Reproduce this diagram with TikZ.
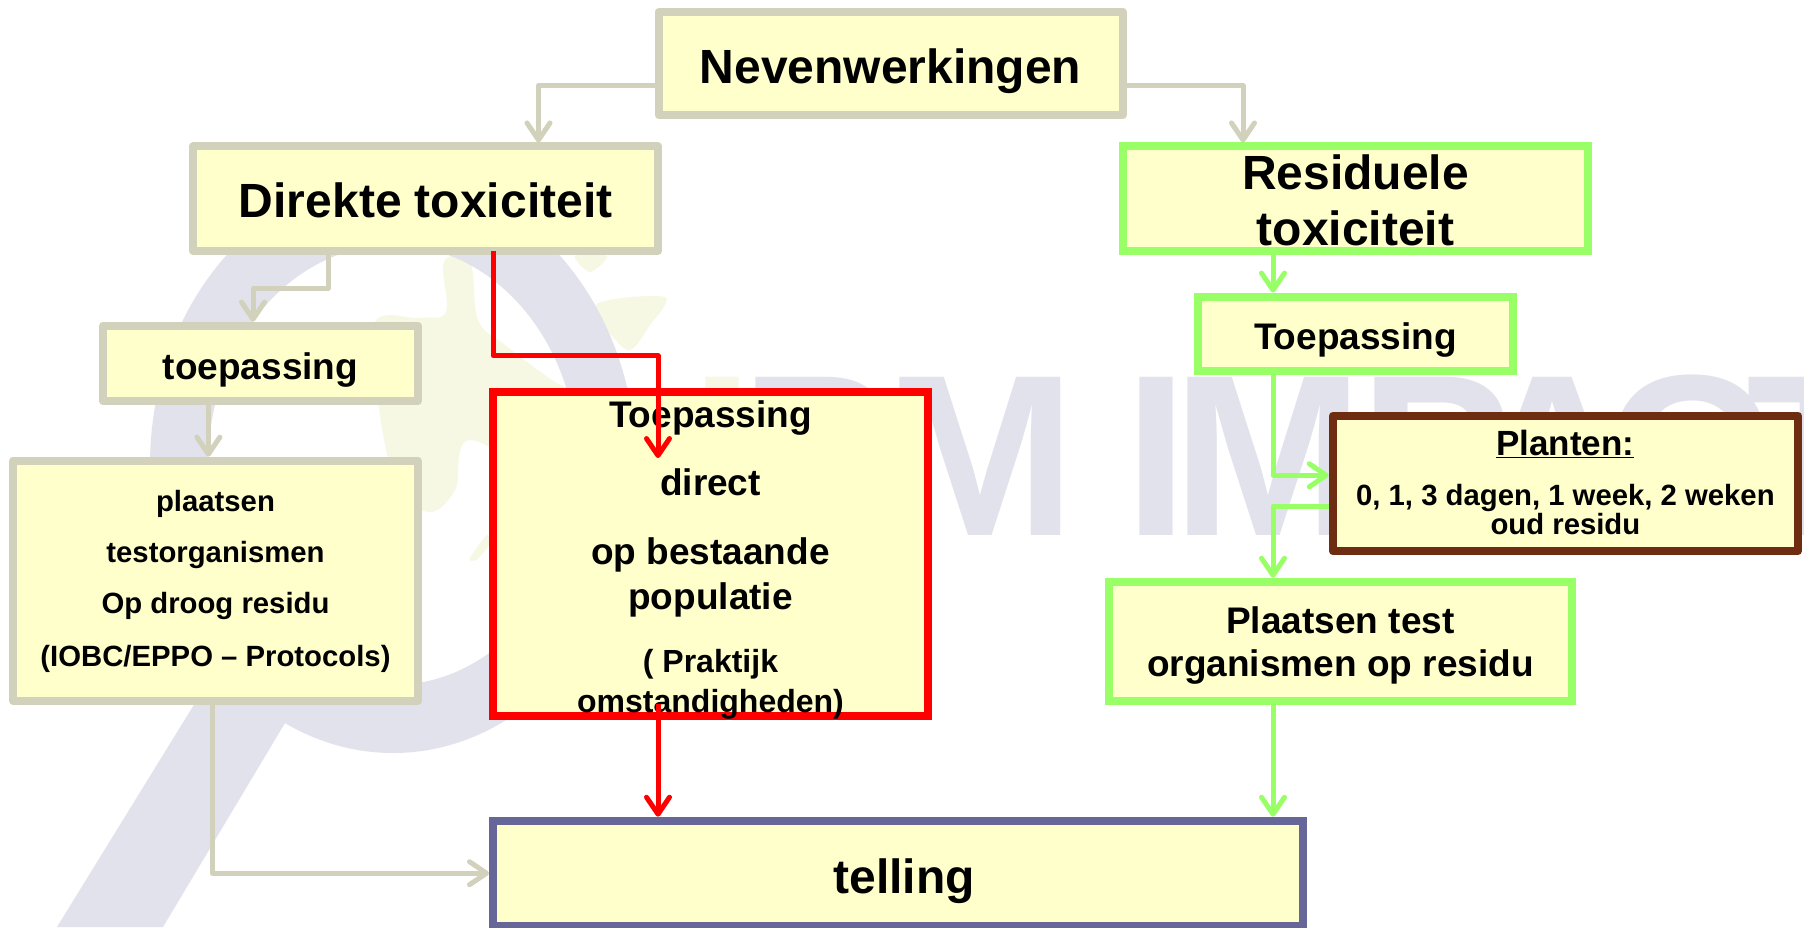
\documentclass[tikz,border=0pt]{standalone}
\usepackage{fontspec}
\setmainfont{Liberation Sans}
\usetikzlibrary{arrows.meta}
\definecolor{boxfill}{HTML}{FFFFCC}
\definecolor{greyline}{HTML}{D1D1BC}
\definecolor{greenline}{HTML}{99FF66}
\definecolor{redline}{HTML}{FF0000}
\definecolor{brownline}{HTML}{6E2C11}
\definecolor{blueline}{HTML}{666699}
\definecolor{wmblue}{HTML}{E2E2EC}
\definecolor{wmgreen}{HTML}{F6F8E4}
\newcommand\Ln[3]{\makebox[0pt][c]{\raisebox{#2pt}[0pt][0pt]{\fontsize{#1pt}{#1pt}\selectfont\bfseries #3}}}
\tikzset{
  box/.style={rectangle,fill=boxfill,line width=8pt,inner sep=0pt,text=black},
  greybox/.style={box,draw=greyline,line join=round},
  greenbox/.style={box,draw=greenline,line join=miter},
  redbox/.style={box,draw=redline,line join=miter},
  brownbox/.style={box,draw=brownline,line join=round},
  bluebox/.style={box,draw=blueline,line join=miter},
  conn/.style={line width=5pt,line join=round,-{Straight Barb[length=17pt,width=23pt,round]}},
  greyconn/.style={conn,draw=greyline},
  greenconn/.style={conn,draw=greenline},
  redconn/.style={conn,draw=redline},
  wmletter/.style={inner sep=0pt,anchor=base,text=wmblue,font=\fontsize{230pt}{230pt}\selectfont\bfseries},
}
\begin{document}
\begin{tikzpicture}[x=1pt,y=-1pt]
\clip (0,0) rectangle (1804,927);
\fill[white] (0,0) rectangle (1804,927);
% watermark: gecko
\fill[wmgreen] plot[smooth cycle,tension=.6] coordinates {(375,322)(420,318)(446,312)(444,262)(470,262)(478,320)(505,345)(560,385)(600,400)(560,480)(470,440)(455,490)(428,512)(395,480)(378,400)};
\fill[wmgreen] plot[smooth cycle,tension=.5] coordinates {(596,305)(665,297)(650,325)(627,350)};
\fill[wmgreen] plot[smooth cycle,tension=.5] coordinates {(575,256)(607,256)(590,272)};
\fill[wmgreen] plot[smooth cycle,tension=.5] coordinates {(470,558)(487,535)(489,545)(476,560)};
% watermark: magnifier
\fill[wmblue,even odd rule] (393,465) ellipse [x radius=243,y radius=288] (393,465) ellipse [x radius=185,y radius=220];
\fill[wmblue] (285,723) -- (163,927) -- (57,927) -- (240,630) -- (320,680) -- cycle;
% watermark: lettering
\node[wmletter,text=wmgreen] (wmI) at (722,535) {I};
\foreach \n/\l/\x in {a/P/817,b/M/980,c/I/1156,d/M/1268,e/P/1436,f/A/1553,g/C/1688,h/T/1817}
  \node[wmletter] (wm\n) at (\x,535) {\l};
% boxes
\node[greybox,minimum width=464pt,minimum height=103.7pt] (nev) at (890.5,63.5) {\Ln{48}{-20.3}{Nevenwerkingen}};
\node[greybox,minimum width=464.6pt,minimum height=104.3pt] (dir) at (425.7,198.6) {\Ln{48}{-18.8}{Direkte toxiciteit}};
\node[greenbox,minimum width=465pt,minimum height=104.3pt] (res) at (1355.5,198.6) {\Ln{48}{9.6}{Residuele}\Ln{48}{-46.4}{toxiciteit}};
\node[greybox,minimum width=315pt,minimum height=75.3pt] (toepl) at (260.5,363.3) {\Ln{37}{-15.7}{toepassing}};
\node[greenbox,minimum width=315pt,minimum height=74.4pt] (toepr) at (1355.5,333.8) {\Ln{37}{-15.2}{Toepassing}};
\node[greybox,minimum width=404.4pt,minimum height=240.3pt] (plaats) at (215.5,580.8) {\Ln{29.3}{69.8}{plaatsen}\Ln{29.3}{18.7}{testorganismen}\Ln{29.3}{-32.2}{Op droog residu}\Ln{29.3}{-85.2}{(IOBC/EPPO – Protocols)}};
\node[redbox,minimum width=435pt,minimum height=323.7pt] (direct) at (710.5,554.2) {\Ln{37}{126.8}{Toepassing}\Ln{37}{58.3}{direct}\Ln{37}{-10.4}{op bestaande}\Ln{37}{-54.8}{populatie}\Ln{32}{-118.6}{( Praktijk}\Ln{32}{-158.1}{omstandigheden)}};
\node[brownbox,minimum width=465.3pt,minimum height=135.3pt] (planten) at (1565.4,483.4) {\Ln{35}{28.4}{\underline{Planten:}}\Ln{29.3}{-22.1}{0, 1, 3 dagen, 1 week, 2 weken}\Ln{29.3}{-50.6}{oud residu}};
\node[greenbox,minimum width=463.3pt,minimum height=119pt] (ptest) at (1340.4,641.2) {\Ln{37}{8.2}{Plaatsen test}\Ln{37}{-34.8}{organismen op residu}};
\node[bluebox,minimum width=810pt,minimum height=105pt] (telling) at (898,873.2) {\hspace*{12pt}\Ln{48}{-20}{telling}};
% connectors
\coordinate (redend) at ([xshift=-52.5pt,yshift=-69.7pt]direct.north);
\draw[greyconn] ([yshift=-22.2pt]nev.west) -| ([xshift=112.8pt]dir.north);
\draw[greyconn] ([yshift=-22.2pt]nev.east) -| ([xshift=-112.5pt]res.north);
\draw[greyconn] ([xshift=-97.7pt]dir.south) -- ++(0,33.7) -| ([xshift=-7.5pt]toepl.north);
\draw[greyconn] ([xshift=-52.1pt]toepl.south) -- ([xshift=-7.1pt]plaats.north);
\draw[greyconn] ([xshift=-3.1pt]plaats.south) |- (telling.west);
\draw[redconn] ([xshift=67.3pt,yshift=4pt]dir.south) -- ++(0,105) -| (redend);
\draw[redconn] ([xshift=-52.5pt,yshift=16pt]direct.south) -- ([xshift=-240pt]telling.north);
\draw[greenconn] ([xshift=-82.5pt]res.south) -- ([xshift=-82.5pt]toepr.north);
\draw[greenconn] ([xshift=-82.5pt]toepr.south) |- ([yshift=8.1pt]planten.west);
\draw[greenconn] ([yshift=-22.6pt]planten.west) -| ([xshift=-67.4pt]ptest.north);
\draw[greenconn] ([xshift=-67.4pt]ptest.south) -- ([xshift=375pt]telling.north);
\end{tikzpicture}
\end{document}
